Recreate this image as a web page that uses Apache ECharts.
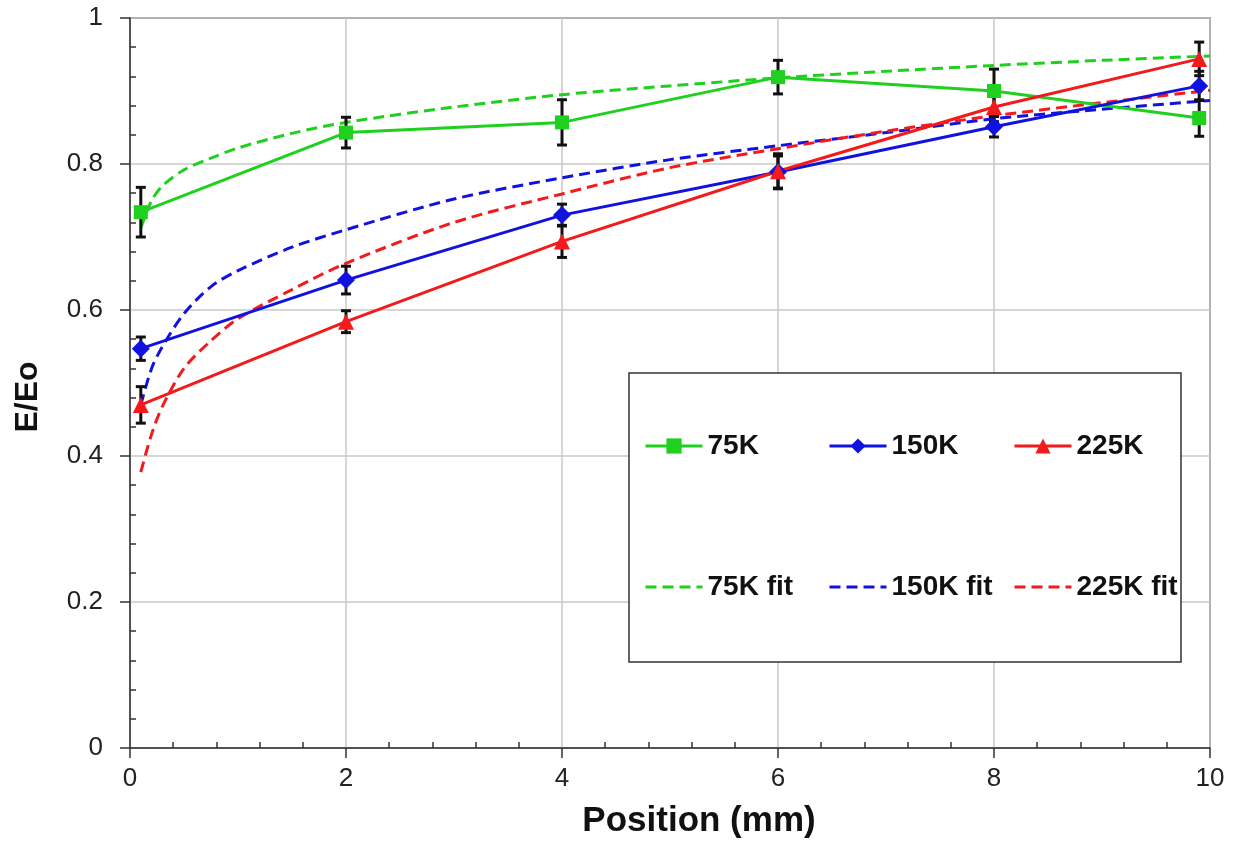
<!DOCTYPE html>
<html>
<head>
<meta charset="utf-8">
<script src="https://cdn.jsdelivr.net/npm/echarts@6/dist/echarts.min.js"></script>
<style>
  html, body { margin: 0; padding: 0; background: #fff; }
  #chart { width: 1234px; height: 852px; }
</style>
</head>
<body>
<div id="chart"></div>
<script>
// measured points (position in mm)
const xPos = [0.1, 2, 4, 6, 8, 9.9];
const e75 = [0.734, 0.843, 0.857, 0.919, 0.900, 0.863];
const err75 = [0.034, 0.021, 0.031, 0.023, 0.030, 0.025];
const e150 = [0.547, 0.641, 0.730, 0.789, 0.851, 0.907];
const err150 = [0.016, 0.019, 0.015, 0.022, 0.014, 0.020];
const e225 = [0.470, 0.584, 0.694, 0.790, 0.878, 0.944];
const err225 = [0.025, 0.015, 0.022, 0.024, 0.020, 0.023];

// fit curves
const fitX = [0.1, 0.2, 0.3, 0.5, 0.75, 1, 1.5, 2, 3, 4, 5, 6, 7, 8, 9, 10];
const fit75 = [0.712, 0.750, 0.770, 0.792, 0.808, 0.822, 0.842, 0.857, 0.878, 0.895, 0.907, 0.918, 0.927, 0.935, 0.942, 0.948];
const fit150 = [0.470, 0.520, 0.550, 0.595, 0.632, 0.654, 0.686, 0.710, 0.752, 0.781, 0.806, 0.825, 0.843, 0.862, 0.875, 0.887];
const fit225 = [0.378, 0.430, 0.468, 0.520, 0.558, 0.588, 0.628, 0.664, 0.720, 0.759, 0.795, 0.821, 0.845, 0.866, 0.884, 0.901];

const GREEN = '#1fd01f';
const BLUE = '#1212e0';
const RED = '#f21a1a';
const FONT = 'Liberation Sans, Arial, sans-serif';

const pts = (xs, ys) => xs.map((x, i) => [x, ys[i]]);
const bars = (ys, es) => xPos.map((x, i) => [x, ys[i] - es[i], ys[i] + es[i]]);

function errorBar(params, api) {
  const x = api.value(0);
  const lo = api.coord([x, api.value(1)]);
  const hi = api.coord([x, api.value(2)]);
  const cap = 5;
  const style = { stroke: '#111', lineWidth: 3 };
  return {
    type: 'group',
    children: [
      { type: 'line', shape: { x1: lo[0], y1: lo[1], x2: hi[0], y2: hi[1] }, style },
      { type: 'line', shape: { x1: lo[0] - cap, y1: lo[1], x2: lo[0] + cap, y2: lo[1] }, style },
      { type: 'line', shape: { x1: hi[0] - cap, y1: hi[1], x2: hi[0] + cap, y2: hi[1] }, style }
    ]
  };
}

const dataLine = (name, ys, color, symbol, size) => ({
  name, type: 'line', data: pts(xPos, ys),
  symbol, symbolSize: size, z: 5,
  lineStyle: { color, width: 3 },
  itemStyle: { color }
});

const fitLine = (name, ys, color) => ({
  name, type: 'line', data: pts(fitX, ys),
  symbol: 'none', smooth: 0.3, z: 3,
  lineStyle: { color, width: 3, type: [11, 6] },
  itemStyle: { color }
});

const errSeries = (ys, es) => ({
  type: 'custom', renderItem: errorBar, data: bars(ys, es),
  encode: { x: 0, y: [1, 2] }, z: 4, clip: false, silent: true
});

const noMark = { opacity: 0 };
const legendBase = {
  orient: 'vertical', itemWidth: 57, itemHeight: 19, itemGap: 113,
  top: 427, z: 10,
  lineStyle: { width: 3 },
  textStyle: { fontFamily: FONT, fontSize: 28, fontWeight: 'bold', color: '#111' }
};

const chart = echarts.init(document.getElementById('chart'));
chart.setOption({
  animation: false,
  backgroundColor: '#fff',
  grid: { left: 130, right: 24, top: 18, bottom: 104, show: true, borderColor: '#444', borderWidth: 1.5 },
  xAxis: [
    {
      type: 'value', min: 0, max: 10, interval: 2,
      name: 'Position (mm)', nameLocation: 'middle', nameGap: 56,
      nameTextStyle: { fontFamily: FONT, fontSize: 35, fontWeight: 'bold', color: '#111', padding: [0, 0, 0, 58] },
      axisLine: { lineStyle: { color: '#333', width: 1.5 } },
      axisTick: { length: 10, lineStyle: { color: '#333', width: 1.5 } },
      axisLabel: { fontFamily: FONT, fontSize: 26, color: '#222', margin: 18 },
      splitLine: { lineStyle: { color: '#c8c8c8', width: 1.5 } }
    },
    {
      type: 'value', min: 0, max: 10, interval: 2, position: 'bottom',
      axisLine: { show: false }, axisLabel: { show: false },
      axisTick: { show: false, inside: true },
      minorTick: { show: true, splitNumber: 5, length: 6, lineStyle: { color: '#333', width: 1.5 } },
      splitLine: { show: false }
    }
  ],
  yAxis: [
    {
      type: 'value', min: 0, max: 1, interval: 0.2,
      name: 'E/Eo', nameLocation: 'middle', nameGap: 86,
      nameTextStyle: { fontFamily: FONT, fontSize: 32, fontWeight: 'bold', color: '#111', padding: [0, 28, 0, 0] },
      axisLine: { lineStyle: { color: '#333', width: 1.5 } },
      axisTick: { length: 10, lineStyle: { color: '#333', width: 1.5 } },
      axisLabel: { fontFamily: FONT, fontSize: 26, color: '#222', margin: 27 },
      splitLine: { lineStyle: { color: '#c8c8c8', width: 1.5 } }
    },
    {
      type: 'value', min: 0, max: 1, interval: 0.2, position: 'left',
      axisLine: { show: false }, axisLabel: { show: false },
      axisTick: { show: false, inside: true },
      minorTick: { show: true, splitNumber: 5, length: 6, lineStyle: { color: '#333', width: 1.5 } },
      splitLine: { show: false }
    }
  ],
  graphic: [{
    type: 'rect', z: 8,
    shape: { x: 629, y: 373, width: 552, height: 289 },
    style: { fill: '#fff', stroke: '#333', lineWidth: 1.5 }
  }],
  legend: [
    Object.assign({}, legendBase, { left: 639, data: ['75K', { name: '75K fit', itemStyle: noMark }] }),
    Object.assign({}, legendBase, { left: 823, data: ['150K', { name: '150K fit', itemStyle: noMark }] }),
    Object.assign({}, legendBase, { left: 1008, data: ['225K', { name: '225K fit', itemStyle: noMark }] })
  ],
  series: [
    fitLine('75K fit', fit75, GREEN),
    fitLine('150K fit', fit150, BLUE),
    fitLine('225K fit', fit225, RED),
    errSeries(e75, err75),
    errSeries(e150, err150),
    errSeries(e225, err225),
    dataLine('75K', e75, GREEN, 'rect', 14),
    dataLine('150K', e150, BLUE, 'diamond', 18),
    dataLine('225K', e225, RED, 'triangle', 16)
  ]
});
</script>
</body>
</html>
